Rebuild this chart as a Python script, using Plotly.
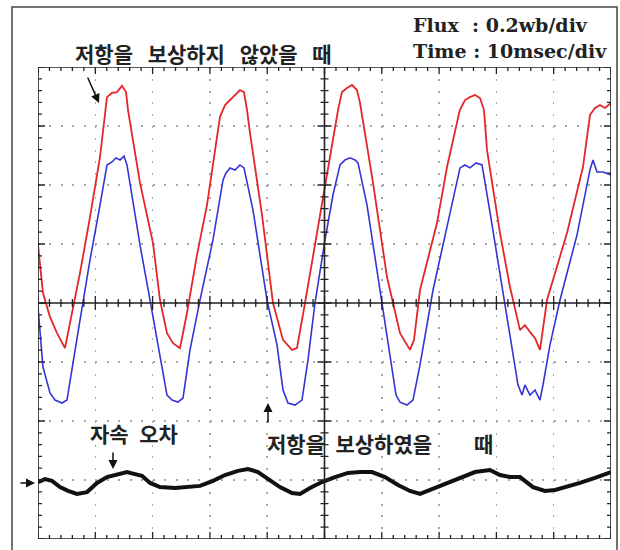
import plotly.graph_objects as go

# ---------------- data (time in ms, flux in Wb) ----------------
# Flux without resistance compensation (red)
RED = [
    (0.0, 0.197), (0.87, 0.034), (2.09, -0.047), (3.32, -0.102), (4.71, -0.153),
    (5.93, -0.034), (7.33, 0.102), (9.08, 0.292), (10.82, 0.495), (12.04, 0.698),
    (12.91, 0.712), (13.79, 0.715), (14.66, 0.736), (15.36, 0.715), (15.71, 0.654),
    (17.80, 0.407), (20.07, 0.203), (21.29, 0.010), (22.51, -0.102), (23.56, -0.136),
    (24.78, -0.153), (26.00, -0.034), (27.75, 0.163), (29.49, 0.332), (30.89, 0.519),
    (31.76, 0.631), (32.64, 0.671), (33.51, 0.688), (34.38, 0.705), (35.25, 0.722),
    (35.95, 0.715), (36.48, 0.654), (37.00, 0.576), (39.10, 0.298), (41.01, 0.0),
    (42.76, -0.125), (44.33, -0.159), (45.20, -0.153), (46.60, 0.0), (49.21, 0.298),
    (50.96, 0.495), (52.36, 0.654), (53.05, 0.715), (53.93, 0.729), (54.80, 0.739),
    (55.67, 0.722), (56.20, 0.678), (58.47, 0.407), (60.91, 0.088), (63.18, -0.102),
    (64.92, -0.159), (65.62, -0.125), (66.67, 0.044), (69.63, 0.271), (71.38, 0.461),
    (73.62, 0.654), (74.52, 0.688), (75.39, 0.698), (76.27, 0.705), (77.14, 0.695),
    (77.84, 0.654), (78.36, 0.519), (80.63, 0.237), (82.37, 0.054), (84.12, -0.092),
    (84.99, -0.075), (85.86, -0.098), (86.74, -0.119), (87.61, -0.159), (88.13, -0.092),
    (88.83, 0.010), (92.32, 0.237), (95.11, 0.461), (96.33, 0.637), (97.21, 0.661),
    (98.08, 0.671), (98.95, 0.661), (100.0, 0.678),
]

# Flux with resistance compensation (blue)
BLUE = [
    (0.0, -0.014), (0.35, -0.102), (0.87, -0.217), (2.09, -0.305), (2.97, -0.329),
    (4.19, -0.339), (5.06, -0.329), (7.33, -0.058), (9.08, 0.146), (10.82, 0.332),
    (12.04, 0.468), (12.91, 0.478), (13.61, 0.492), (14.31, 0.485), (15.01, 0.498),
    (15.53, 0.468), (17.80, 0.197), (19.55, 0.010), (21.29, -0.176), (22.51, -0.312),
    (23.39, -0.329), (24.43, -0.336), (25.31, -0.322), (26.53, -0.159), (28.27, 0.010),
    (30.54, 0.214), (32.29, 0.417), (32.81, 0.441), (33.51, 0.458), (34.38, 0.451),
    (35.25, 0.468), (35.95, 0.458), (37.52, 0.315), (39.97, 0.010), (41.71, -0.142),
    (42.76, -0.295), (43.63, -0.339), (44.85, -0.346), (46.07, -0.329), (47.12, -0.193),
    (48.34, 0.0), (50.09, 0.214), (51.48, 0.366), (52.71, 0.468), (53.58, 0.485),
    (54.45, 0.492), (55.33, 0.485), (55.85, 0.475), (57.42, 0.332), (59.69, 0.044),
    (61.43, -0.193), (62.48, -0.312), (63.18, -0.336), (64.40, -0.346), (65.44, -0.329),
    (66.67, -0.210), (68.94, 0.044), (71.38, 0.264), (73.65, 0.458), (74.52, 0.468),
    (75.39, 0.458), (76.44, 0.475), (77.49, 0.468), (78.88, 0.308), (80.63, 0.095),
    (82.37, -0.108), (83.77, -0.278), (84.47, -0.312), (84.99, -0.278), (85.86, -0.312),
    (86.74, -0.295), (87.61, -0.329), (88.13, -0.278), (89.35, -0.142), (91.10, 0.010),
    (94.07, 0.231), (96.33, 0.451), (96.86, 0.485), (97.56, 0.444), (98.60, 0.444),
    (100.0, 0.434),
]

# Flux error (black), shown around its own reference level
ERR_ZERO = -0.6
ERROR = [
    (0.0, -0.007), (1.22, 0.003), (2.44, -0.003), (3.84, -0.024), (5.24, -0.037),
    (6.81, -0.047), (8.55, -0.041), (10.30, -0.010), (12.04, 0.010), (13.79, 0.020),
    (15.53, 0.027), (16.93, 0.020), (18.15, 0.014), (19.55, -0.010), (21.29, -0.024),
    (23.91, -0.027), (26.53, -0.024), (28.27, -0.020), (30.54, -0.003), (32.64, 0.017),
    (34.90, 0.031), (36.65, 0.037), (38.39, 0.027), (40.14, 0.003), (42.23, -0.024),
    (44.33, -0.044), (45.72, -0.047), (47.47, -0.027), (49.56, -0.007), (51.83, 0.010),
    (54.10, 0.024), (56.20, 0.027), (58.29, 0.027), (60.56, 0.010), (62.83, -0.017),
    (64.92, -0.037), (66.67, -0.047), (68.76, -0.031), (71.03, -0.014), (73.65, 0.007),
    (76.27, 0.027), (78.88, 0.034), (80.63, 0.017), (82.37, 0.010), (84.12, 0.010),
    (86.39, -0.024), (88.48, -0.037), (90.23, -0.034), (92.32, -0.024), (94.59, -0.010),
    (97.21, 0.007), (100.0, 0.027),
]

T_DIV = 10.0     # ms / div
F_DIV = 0.2      # Wb / div
N_XDIV = 10
N_YDIV = 8

TXT_SCALE = ["Flux\u00a0\u00a0: 0.2wb/div", "Time : 10msec/div"]
TXT_UNCOMP = "저항을\u2002\u2009보상하지\u2002\u2009않았을\u2002\u2009때"
TXT_COMP = "저항을\u2002보상하였을\u2003\u2003때"
TXT_ERR = "자속\u2002오차"

# ---------------- figure ----------------
W, H = 620, 550
ML, MR, MT, MB = 38, 9, 67, 11
PW, PH = W - ML - MR, H - MT - MB

def paper(xp, yp):
    return (xp - ML) / PW, (H - MB - yp) / PH

fig = go.Figure()
fig.add_trace(go.Scatter(x=[p[0] for p in RED], y=[p[1] for p in RED], mode="lines",
                         line=dict(color="#e3262a", width=1.8), hoverinfo="skip"))
fig.add_trace(go.Scatter(x=[p[0] for p in BLUE], y=[p[1] for p in BLUE], mode="lines",
                         line=dict(color="#3434d6", width=1.6), hoverinfo="skip"))
fig.add_trace(go.Scatter(x=[p[0] for p in ERROR], y=[ERR_ZERO + p[1] for p in ERROR], mode="lines",
                         line=dict(color="#111111", width=4), hoverinfo="skip"))

xmax = T_DIV * N_XDIV
ymax = F_DIV * N_YDIV / 2
ymin = -ymax

# graticule ticks
lx_min, lx_maj = 4 * xmax / PW, 7 * xmax / PW
ly_min, ly_maj = 4 * (ymax - ymin) / PH, 7 * (ymax - ymin) / PH
path_parts = []
for i in range(N_XDIV * 5 + 1):
    x = i * T_DIV / 5
    ly = ly_maj if i % 5 == 0 else ly_min
    path_parts.append(f"M{x},{ymin}L{x},{ymin + ly}")
    path_parts.append(f"M{x},{ymax}L{x},{ymax - ly}")
    path_parts.append(f"M{x},{-ly}L{x},{ly}")
for j in range(N_YDIV * 5 + 1):
    y = ymin + j * F_DIV / 5
    lx = lx_maj if j % 5 == 0 else lx_min
    path_parts.append(f"M0,{y}L{lx},{y}")
    path_parts.append(f"M{xmax},{y}L{xmax - lx},{y}")
    path_parts.append(f"M{xmax/2 - lx},{y}L{xmax/2 + lx},{y}")

shapes = [
    dict(type="path", xref="x", yref="y", path="".join(path_parts),
         line=dict(color="#222222", width=1.3), layer="above"),
    dict(type="line", xref="x", yref="y", x0=0, x1=xmax, y0=0, y1=0,
         line=dict(color="#222222", width=1.6), layer="above"),
    dict(type="line", xref="x", yref="y", x0=xmax / 2, x1=xmax / 2, y0=ymin, y1=ymax,
         line=dict(color="#222222", width=1.6), layer="above"),
    dict(type="rect", xref="x", yref="y", x0=0, x1=xmax, y0=ymin, y1=ymax,
         line=dict(color="#222222", width=1.6), layer="above"),
]
fx0, fy0 = paper(12, 560)
fx1, fy1 = paper(617, 7)
shapes.append(dict(type="rect", xref="paper", yref="paper", x0=fx0, x1=fx1, y0=fy0, y1=fy1,
                   line=dict(color="#444444", width=1.5)))

ann = []
def text_at(xp, yp, txt, font, anchor="left"):
    px_, py_ = paper(xp, yp)
    ann.append(dict(xref="paper", yref="paper", x=px_, y=py_, text=txt, showarrow=False,
                    xanchor=anchor, yanchor="middle", font=font))

serif = dict(family="DejaVu Serif", size=19, color="#222222")
kfont = dict(family="Noto Sans CJK KR", size=21, color="#222222")
text_at(411, 25, "<b>" + TXT_SCALE[0] + "</b>", serif)
text_at(411, 51, "<b>" + TXT_SCALE[1] + "</b>", serif)
text_at(73, 53, "<b>" + TXT_UNCOMP + "</b>", kfont)
text_at(88, 433, "<b>" + TXT_ERR + "</b>", kfont)
text_at(265, 443, "<b>" + TXT_COMP + "</b>", kfont)

def arrow(x0, y0, x1, y1):
    px_, py_ = paper(x1, y1)
    ann.append(dict(xref="paper", yref="paper", x=px_, y=py_, ax=x0 - x1, ay=y0 - y1,
                    text="", showarrow=True, arrowhead=2, arrowsize=1.2, arrowwidth=1.5,
                    arrowcolor="#111111"))

arrow(87, 76, 99, 103)
arrow(113, 451, 113, 469)
arrow(268, 424, 268, 403)
arrow(19, 483, 35, 483)

fig.update_layout(
    width=W, height=H,
    margin=dict(l=ML, r=MR, t=MT, b=MB),
    paper_bgcolor="white", plot_bgcolor="white",
    showlegend=False,
    shapes=shapes, annotations=ann,
    xaxis=dict(range=[0, xmax], dtick=T_DIV, tick0=0, showgrid=True, gridcolor="#a8a8a8",
               gridwidth=1.5, griddash="2px,9.8px", zeroline=False, showticklabels=False,
               ticks="", showline=False, fixedrange=True),
    yaxis=dict(range=[ymin, ymax], dtick=F_DIV, tick0=0, showgrid=True, gridcolor="#a8a8a8",
               gridwidth=1.5, griddash="2px,9.46px", zeroline=False, showticklabels=False,
               ticks="", showline=False, fixedrange=True),
)

fig.write_html("out.html", config={"staticPlot": True},
               post_script="document.body.style.margin='0';document.body.style.overflow='hidden';")
